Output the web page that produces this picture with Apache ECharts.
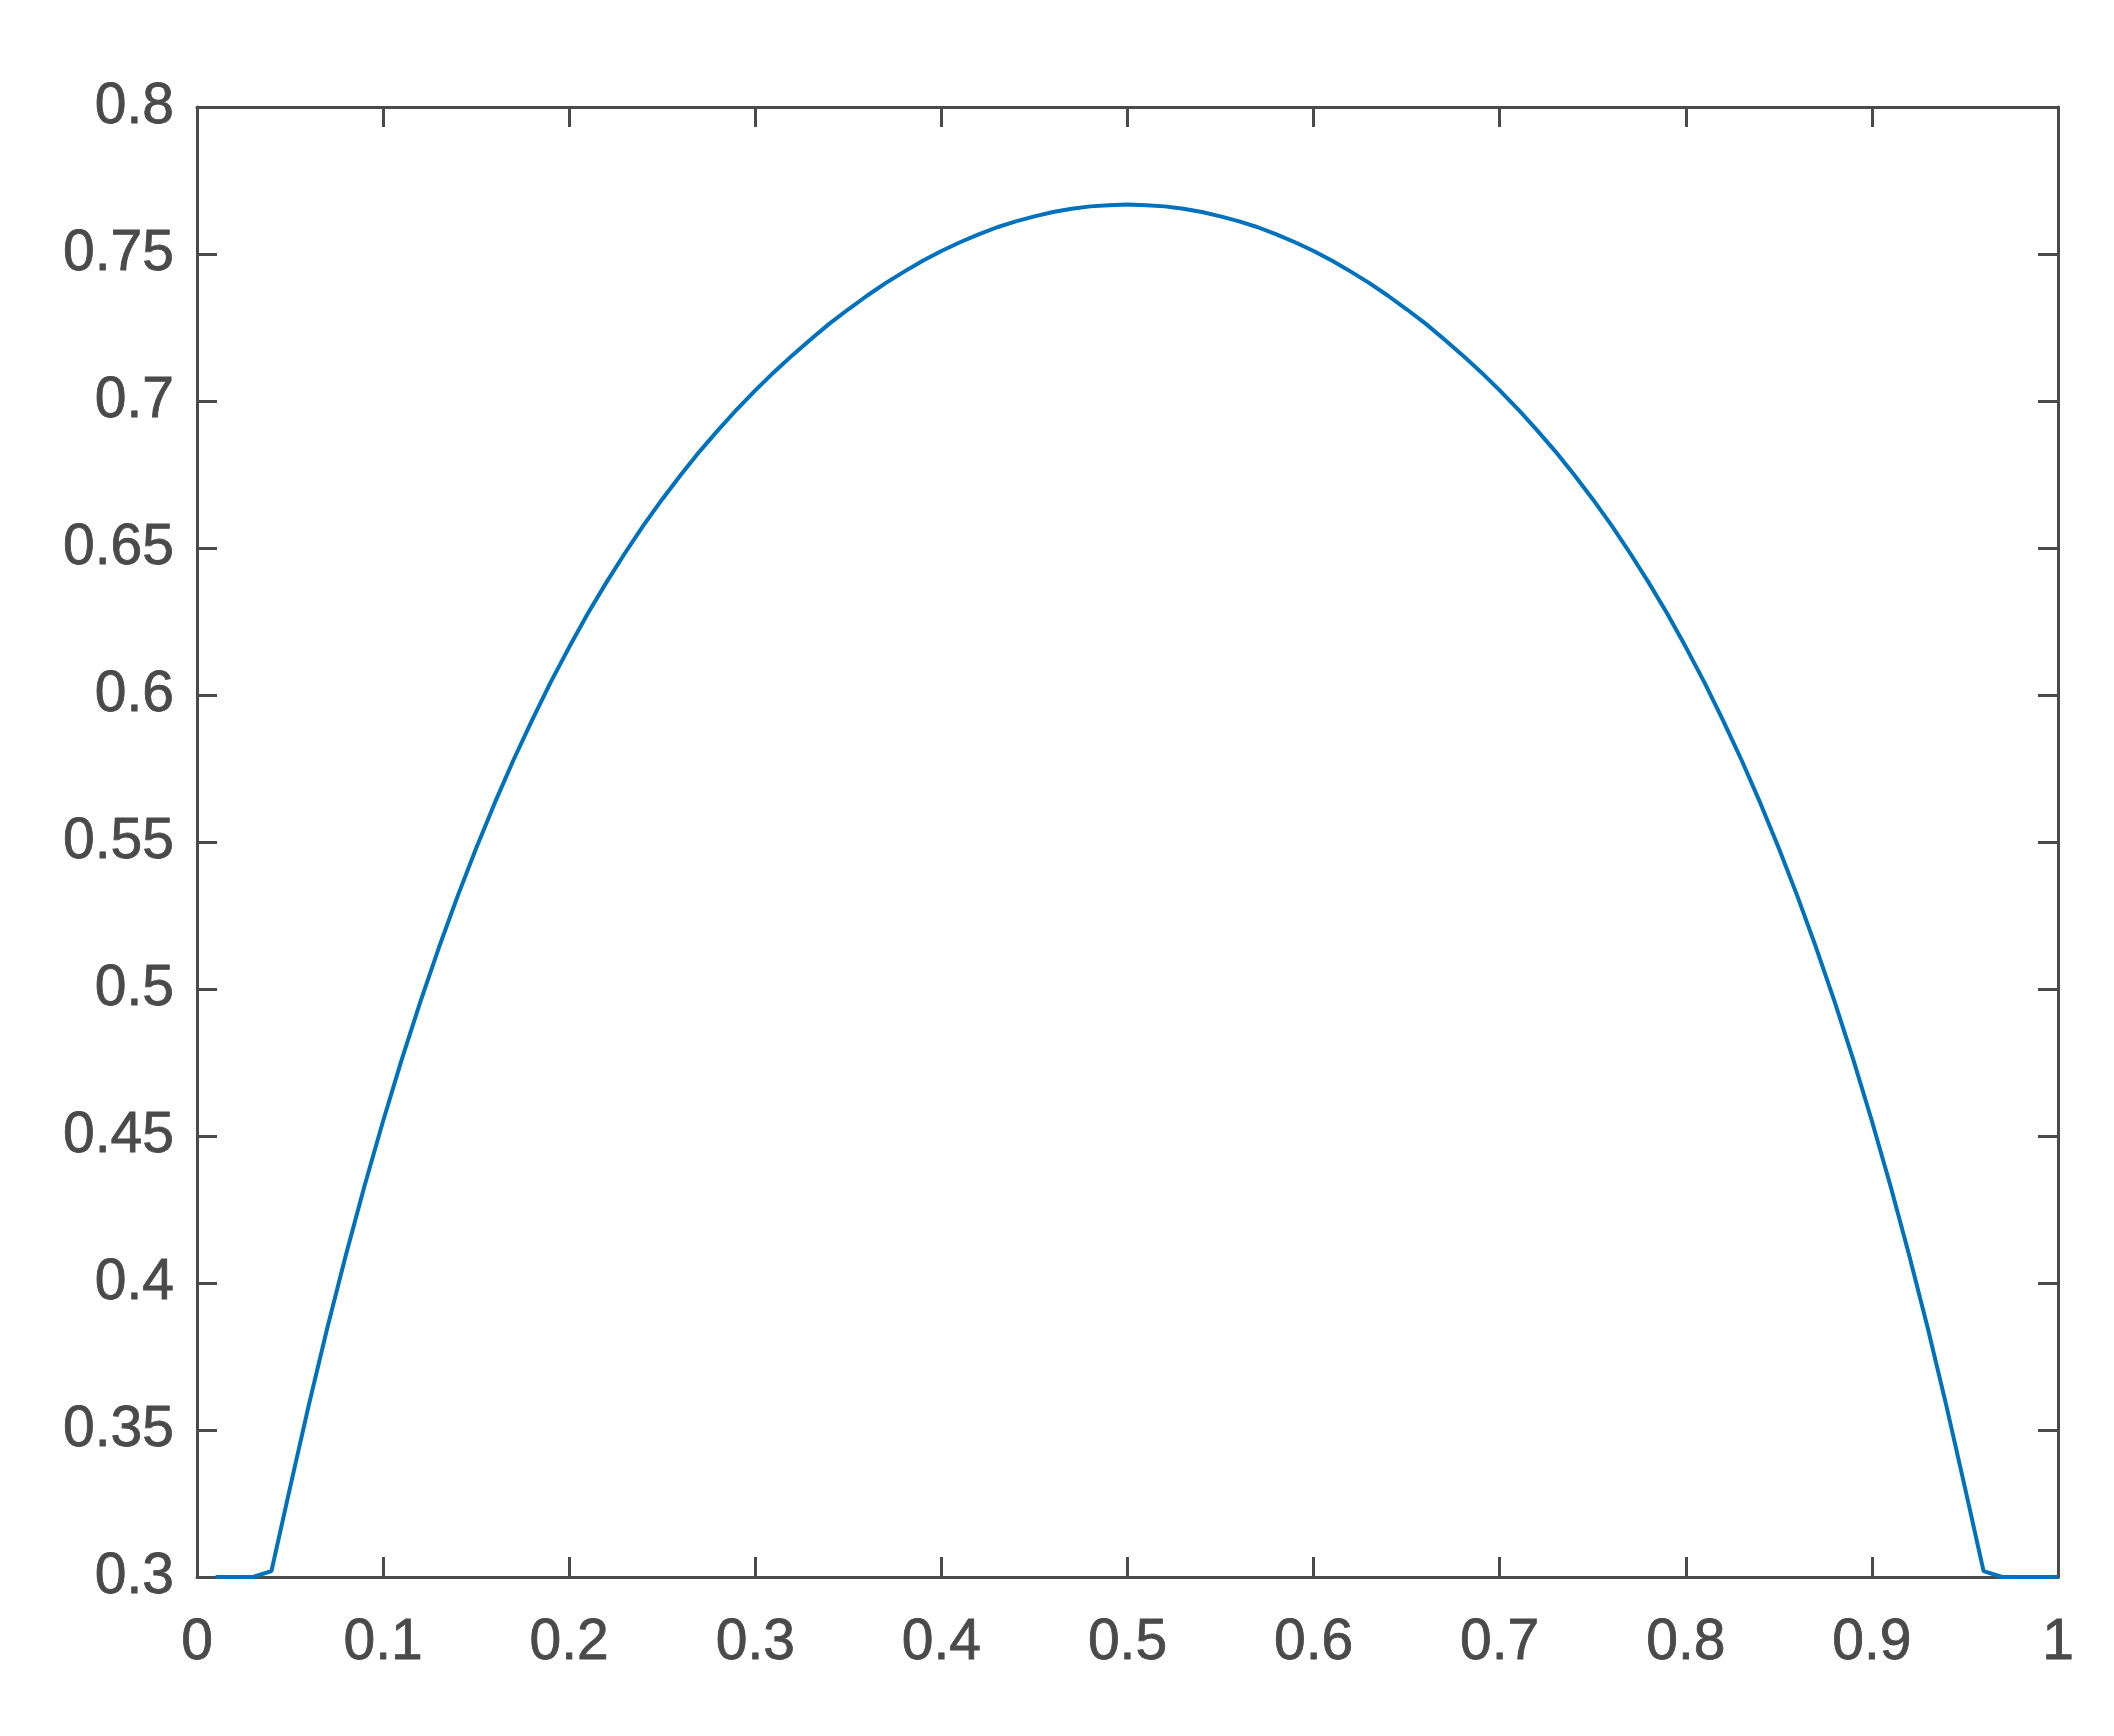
<!DOCTYPE html>
<html lang="en" style="height: 100%">

<head>
  <meta charset="utf-8" />
</head>

<body style="height: 100%; margin: 0; background: #fff">
  <div id="container" style="width: 2114px; height: 1736px"></div>

  <script type="text/javascript" src="https://cdn.jsdelivr.net/npm/echarts@6.0.0/dist/echarts.min.js"></script>

  <script type="text/javascript">
    // values, x step 0.01
    var xValues = [
      0.01, 0.02, 0.03, 0.04, 0.05, 0.06, 0.07, 0.08, 0.09, 0.10,
      0.11, 0.12, 0.13, 0.14, 0.15, 0.16, 0.17, 0.18, 0.19, 0.20,
      0.21, 0.22, 0.23, 0.24, 0.25, 0.26, 0.27, 0.28, 0.29, 0.30,
      0.31, 0.32, 0.33, 0.34, 0.35, 0.36, 0.37, 0.38, 0.39, 0.40,
      0.41, 0.42, 0.43, 0.44, 0.45, 0.46, 0.47, 0.48, 0.49, 0.50,
      0.51, 0.52, 0.53, 0.54, 0.55, 0.56, 0.57, 0.58, 0.59, 0.60,
      0.61, 0.62, 0.63, 0.64, 0.65, 0.66, 0.67, 0.68, 0.69, 0.70,
      0.71, 0.72, 0.73, 0.74, 0.75, 0.76, 0.77, 0.78, 0.79, 0.80,
      0.81, 0.82, 0.83, 0.84, 0.85, 0.86, 0.87, 0.88, 0.89, 0.90,
      0.91, 0.92, 0.93, 0.94, 0.95, 0.96, 0.97, 0.98, 0.99, 1.00
    ];
    var yValues = [
      0.3000, 0.3000, 0.3000, 0.3020, 0.3304, 0.3583, 0.3847, 0.4095, 0.4330, 0.4551,
      0.4760, 0.4956, 0.5141, 0.5315, 0.5479, 0.5633, 0.5778, 0.5914, 0.6043, 0.6163,
      0.6277, 0.6383, 0.6483, 0.6578, 0.6666, 0.6749, 0.6828, 0.6901, 0.6971, 0.7036,
      0.7098, 0.7156, 0.7211, 0.7264, 0.7312, 0.7358, 0.7401, 0.7440, 0.7477, 0.7510,
      0.7540, 0.7567, 0.7591, 0.7611, 0.7628, 0.7643, 0.7654, 0.7662, 0.7666, 0.7668,
      0.7666, 0.7662, 0.7654, 0.7643, 0.7628, 0.7611, 0.7591, 0.7567, 0.7540, 0.7510,
      0.7477, 0.7440, 0.7401, 0.7358, 0.7312, 0.7264, 0.7211, 0.7156, 0.7098, 0.7036,
      0.6971, 0.6901, 0.6828, 0.6749, 0.6666, 0.6578, 0.6483, 0.6383, 0.6277, 0.6163,
      0.6043, 0.5914, 0.5778, 0.5633, 0.5479, 0.5315, 0.5141, 0.4956, 0.4760, 0.4551,
      0.4330, 0.4095, 0.3847, 0.3583, 0.3304, 0.3020, 0.3000, 0.3000, 0.3000, 0.3000
    ];

    var axisColor = "#4a4a4a";
    var fontName = "Liberation Sans";

    var dom = document.getElementById("container");
    var myChart = echarts.init(dom, null, { renderer: "canvas" });

    var lineData = xValues.map(function (x, i) {
      return [x, yValues[i]];
    });

    function boxAxis(extra) {
      var base = {
        type: "value",
        axisLine: { show: true, onZero: false, lineStyle: { color: axisColor, width: 3 } },
        axisTick: { show: true, inside: true, length: 20, lineStyle: { color: axisColor, width: 3 } },
        splitLine: { show: false },
        axisLabel: { show: false },
      };
      return Object.assign(base, extra);
    }

    var labelStyle = {
      show: true,
      color: axisColor,
      fontFamily: fontName,
      fontSize: 57,
      textBorderColor: axisColor,
      textBorderWidth: 0.8,
    };

    var option = {
      animation: false,
      backgroundColor: "#ffffff",
      grid: { left: 197, right: 56, top: 107, bottom: 159 },
      xAxis: [
        boxAxis({
          position: "bottom",
          min: 0, max: 1, interval: 0.1,
          axisLabel: Object.assign({ margin: 38 }, labelStyle),
        }),
        boxAxis({ position: "top", min: 0, max: 1, interval: 0.1 }),
      ],
      yAxis: [
        boxAxis({
          position: "left",
          min: 0.3, max: 0.8, interval: 0.05,
          axisLabel: Object.assign({ margin: 23 }, labelStyle),
        }),
        boxAxis({ position: "right", min: 0.3, max: 0.8, interval: 0.05 }),
      ],
      series: [
        {
          type: "line",
          data: lineData,
          showSymbol: false,
          clip: false,
          lineStyle: { color: "#0072BD", width: 4 },
          z: 5,
        },
      ],
    };

    myChart.setOption(option);
  </script>
</body>

</html>
